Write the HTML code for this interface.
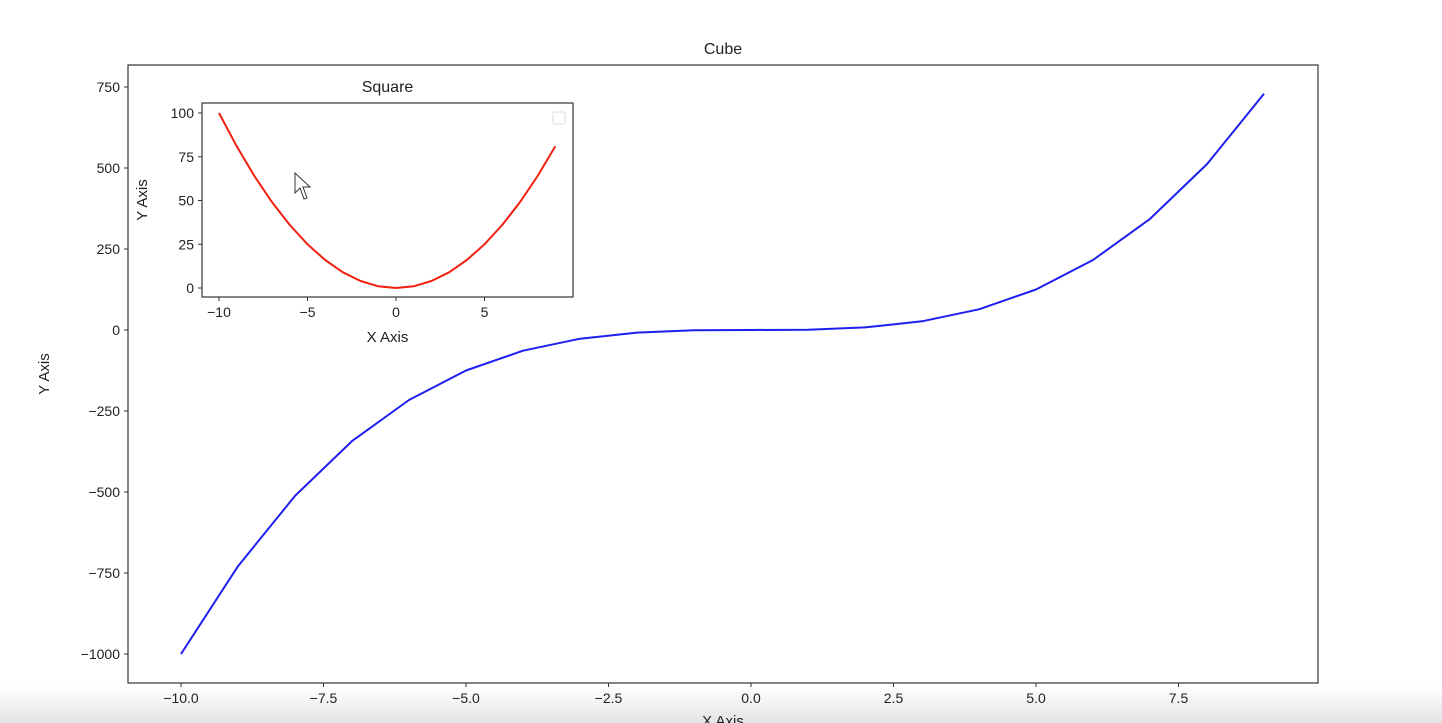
<!DOCTYPE html>
<html><head><meta charset="utf-8"><style>
html,body{margin:0;padding:0;background:#fff;}
svg{display:block;font-family:"Liberation Sans","DejaVu Sans",sans-serif;}
</style></head><body>
<svg id="fig" width="1442" height="723" viewBox="0 0 1442 723">
<defs><linearGradient id="bar" x1="0" y1="0" x2="0" y2="1"><stop offset="0" stop-color="#ffffff"/><stop offset="1" stop-color="#e4e4e4"/></linearGradient></defs>
<rect x="0" y="686" width="1442" height="37" fill="url(#bar)"/>
<g id="main"></g>
<g id="inset"></g>
<path d="M295 173 L295 193 L300 188 L304 199 L307 198 L303 187 L310 187 Z" fill="#fff" stroke="#333" stroke-width="1"/>
</svg>
<script>
const NS="http://www.w3.org/2000/svg";
const cubeX=[-10,-9,-8,-7,-6,-5,-4,-3,-2,-1,0,1,2,3,4,5,6,7,8,9];
const cubeY=[-1000,-729,-512,-343,-216,-125,-64,-27,-8,-1,0,1,8,27,64,125,216,343,512,729];
const sqX=[-10,-9,-8,-7,-6,-5,-4,-3,-2,-1,0,1,2,3,4,5,6,7,8,9];
const sqY=[100,81,64,49,36,25,16,9,4,1,0,1,4,9,16,25,36,49,64,81];
const mainXTicks=[-10,-7.5,-5,-2.5,0,2.5,5,7.5];
const mainXLabels=["\u221210.0","\u22127.5","\u22125.0","\u22122.5","0.0","2.5","5.0","7.5"];
const mainYTicks=[750,500,250,0,-250,-500,-750,-1000];
const mainYLabels=["750","500","250","0","\u2212250","\u2212500","\u2212750","\u22121000"];
const inXTicks=[-10,-5,0,5];
const inXLabels=["\u221210","\u22125","0","5"];
const inYTicks=[100,75,50,25,0];
const inYLabels=["100","75","50","25","0"];

function el(p,tag,attrs,text){const e=document.createElementNS(NS,tag);for(const k in attrs)e.setAttribute(k,attrs[k]);if(text!==undefined)e.textContent=text;p.appendChild(e);return e;}

function drawAxes(g,o){
  const sx=v=>o.x0px+(v-o.x0)*o.kx, sy=v=>o.y0px-(v-o.y0)*o.ky;
  const bg=el(g,'rect',{x:o.l,y:o.t,width:o.r-o.l,height:o.b-o.t,fill:'#fff'});
  
  
  o.xt.forEach((v,i)=>{
    const x=sx(v);
    el(g,'line',{x1:x,x2:x,y1:o.b,y2:o.b+4,stroke:'#333','stroke-width':1});
    const t=el(g,'text',{x:x,y:o.b+20,'text-anchor':'middle','font-size':o.fs,fill:'#222'},o.xl[i]);
    
    
  });
  o.yt.forEach((v,i)=>{
    const y=sy(v);
    el(g,'line',{x1:o.l-4,x2:o.l,y1:y,y2:y,stroke:'#333','stroke-width':1});
    const t=el(g,'text',{x:o.l-8,y:y+5,'text-anchor':'end','font-size':o.fs,fill:'#222'},o.yl[i]);
    
    
  });
  const pts=o.dx.map((v,i)=>sx(v).toFixed(1)+','+sy(o.dy[i]).toFixed(1)).join(' ');
  const line=el(g,'polyline',{points:pts,fill:'none',stroke:o.color,'stroke-width':2,'stroke-linejoin':'round'});
  
  
  el(g,'rect',{x:o.l,y:o.t,width:o.r-o.l,height:o.b-o.t,fill:'none',stroke:'#333','stroke-width':1.2});
  const tt=el(g,'text',{x:(o.l+o.r)/2,y:o.t-11,'text-anchor':'middle','font-size':o.fs+2,fill:'#222'},o.title);
  
  
  const xa=el(g,'text',{x:(o.l+o.r)/2,y:o.b+o.xlOff,'text-anchor':'middle','font-size':o.fs+1,fill:'#222'},'X Axis');
  
  
  const ya=el(g,'text',{x:0,y:0,'text-anchor':'middle','font-size':o.fs+1,fill:'#222',transform:`translate(${o.yaX},${(o.t+o.b)/2}) rotate(-90)`},'Y Axis');
  
  
}
drawAxes(document.getElementById('main'),{name:'cube',l:128,r:1318,t:65,b:683,x0:0,x0px:751,kx:57,y0:0,y0px:330,ky:81/250,
 xt:mainXTicks,xl:mainXLabels,yt:mainYTicks,yl:mainYLabels,dx:cubeX,dy:cubeY,color:'#1f1ff0',fs:14,title:'Cube',xlOff:43,yaX:49});
drawAxes(document.getElementById('inset'),{name:'square',l:202,r:573,t:103,b:297,x0:0,x0px:396,kx:17.7,y0:0,y0px:288,ky:1.75,
 xt:inXTicks,xl:inXLabels,yt:inYTicks,yl:inYLabels,dx:sqX,dy:sqY,color:'#f02010',fs:14,title:'Square',xlOff:45,yaX:147});
const ins=document.getElementById('inset');
const lg=el(ins,'rect',{x:553,y:112,width:12,height:12,rx:2,fill:'#fff',stroke:'#ddd','stroke-width':1});


</script>
</body></html>
